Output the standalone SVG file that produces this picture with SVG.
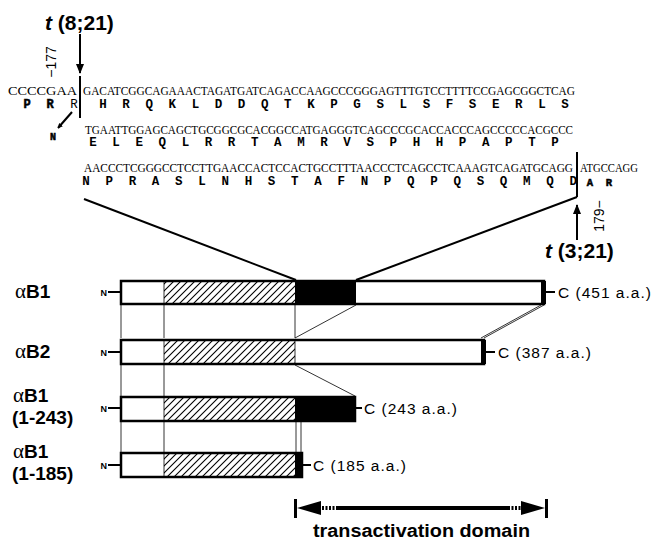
<svg xmlns="http://www.w3.org/2000/svg" width="665" height="542" viewBox="0 0 665 542">
<defs>
<pattern id="hatch" patternUnits="userSpaceOnUse" width="7" height="7">
<path d="M-1,1 L1,-1 M0,7 L7,0 M6,8 L8,6" stroke="#000" stroke-width="1.1"/>
</pattern>
<marker id="ah" viewBox="0 0 10 10" refX="9" refY="5" markerWidth="5" markerHeight="5" orient="auto" markerUnits="userSpaceOnUse">
<path d="M0,0 L10,5 L0,10 z" fill="#000"/>
</marker>
<marker id="ahBig" viewBox="0 0 10 10" refX="9" refY="5" markerWidth="10" markerHeight="10" orient="auto" markerUnits="userSpaceOnUse">
<path d="M0,1 L10,5 L0,9 z" fill="#000"/>
</marker>
</defs>
<style>
.dna{font-family:"Liberation Serif",serif;font-size:13px;fill:#000}
.aa{font-family:"Liberation Mono",monospace;font-size:12.5px;font-weight:bold;fill:#000;text-anchor:middle}
.aab{font-family:"Liberation Mono",monospace;font-size:12px;font-weight:bold;fill:#000;text-anchor:middle;stroke:#000;stroke-width:0.5}
.tl{font-family:"Liberation Sans",Arial,sans-serif;font-size:21px;font-weight:bold;fill:#000}
.pos{font-family:"Liberation Sans",Arial,sans-serif;font-size:14px;fill:#000;text-anchor:middle}
.lab{font-family:"Liberation Sans",Arial,sans-serif;font-size:19px;font-weight:bold;fill:#000}
.alpha{font-family:"Liberation Serif",serif;font-weight:normal;font-size:21px}
.nl{font-family:"Liberation Sans",Arial,sans-serif;font-size:9px;font-weight:bold;fill:#000;text-anchor:end}
.cl{font-family:"Liberation Sans",Arial,sans-serif;font-size:15.5px;letter-spacing:1px;fill:#000}
.bar{stroke:#000;stroke-width:2.5;fill:none}
.thin{stroke:#000;stroke-width:0.8;fill:none}
.conn{stroke:#000;stroke-width:2;fill:none}
.tick{stroke:#000;stroke-width:2}
</style>

<!-- Sequence block -->
<g id="sequence">
<text class="dna" x="8" y="95" textLength="69" lengthAdjust="spacingAndGlyphs">CCCCGAA</text>
<text class="dna" x="83" y="95" textLength="492" lengthAdjust="spacingAndGlyphs">GACATCGGCAGAAACTAGATGATCAGACCAAGCCCGGGAGTTTGTCCTTTTCCGAGCGGCTCAG</text>
<text class="aab" x="27 50" y="108">PR</text>
<text class="aa" x="74" y="108" style="font-weight:normal">R</text>
<text class="aa" x="103 126.1 149.2 172.3 195.4 218.5 241.6 264.7 287.8 310.9 334 357.1 380.2 403.3 426.4 449.5 472.6 495.7 518.8 541.9 565" y="108">HRQKLDDQTKPGSLSFSERLS</text>
<text class="dna" x="85" y="134" textLength="488" lengthAdjust="spacingAndGlyphs">TGAATTGGAGCAGCTGCGGCGCACGGCCATGAGGGTCAGCCCGCACCACCCAGCCCCCACGCCC</text>
<text class="aa" x="93 116.1 139.2 162.3 185.4 208.5 231.6 254.7 277.8 300.9 324 347.1 370.2 393.3 416.4 439.5 462.6 485.7 508.8 531.9 555" y="146">ELEQLRRTAMRVSPHHPAPTP</text>
<text class="dna" x="84" y="172" textLength="489" lengthAdjust="spacingAndGlyphs">AACCCTCGGGCCTCCTTGAACCACTCCACTGCCTTTAACCCTCAGCCTCAAAGTCAGATGCAGG</text>
<text class="dna" x="580" y="172" textLength="58" lengthAdjust="spacingAndGlyphs">ATGCCAGG</text>
<text class="aa" x="86 109.2 132.4 155.6 178.8 202 225.2 248.4 271.6 294.8 318 341.2 364.4 387.6 410.8 434 457.2 480.4 503.6 526.8 550 573.2" y="185">NPRASLNHSTAFNPQPQSQMQD</text>
<text class="aab" x="590 609" y="186" style="font-size:10.5px">AR</text>
<text class="aab" x="53" y="140" style="font-size:10px">N</text>
</g>

<!-- Breakpoint t(8;21) -->
<g id="t8-21">
<text class="tl" x="45" y="30"><tspan font-style="italic">t</tspan> (8;21)</text>
<line x1="80" y1="34" x2="80" y2="73" stroke="#000" stroke-width="2" marker-end="url(#ahBig)"/>
<line x1="80" y1="76" x2="80" y2="118" stroke="#000" stroke-width="2"/>
<text class="pos" transform="translate(56,62) rotate(-90)">−177</text>
<line x1="72" y1="112" x2="58" y2="128" stroke="#000" stroke-width="2" marker-end="url(#ah)"/>
</g>

<!-- Breakpoint t(3;21) -->
<g id="t3-21">
<text class="tl" x="545" y="258"><tspan font-style="italic">t</tspan> (3;21)</text>
<line x1="577" y1="240" x2="577" y2="205" stroke="#000" stroke-width="2" marker-end="url(#ahBig)"/>
<line x1="577" y1="152" x2="577" y2="197" stroke="#000" stroke-width="2"/>
<text class="pos" transform="translate(604,216) rotate(-90)">179−</text>
</g>

<!-- Connectors -->
<g id="connectors">
<line class="conn" x1="84" y1="199" x2="296" y2="280"/>
<line class="conn" x1="577" y1="197" x2="356" y2="280"/>
<!-- aB1 to aB2 -->
<line class="thin" x1="121" y1="305" x2="121" y2="338"/>
<line class="thin" x1="164" y1="305" x2="164" y2="338"/>
<line class="thin" x1="295" y1="305" x2="295" y2="338"/>
<line class="thin" x1="356" y1="305" x2="295" y2="338"/>
<line class="thin" x1="541" y1="305" x2="481" y2="338"/>
<line class="thin" x1="544" y1="305" x2="484" y2="338"/>
<!-- aB2 to 1-243 -->
<line class="thin" x1="121" y1="365" x2="121" y2="396"/>
<line class="thin" x1="164" y1="365" x2="164" y2="396"/>
<line class="thin" x1="295" y1="365" x2="355" y2="396"/>
<!-- 1-243 to 1-185 -->
<line class="thin" x1="121" y1="422" x2="121" y2="452"/>
<line class="thin" x1="164" y1="422" x2="164" y2="452"/>
<line class="thin" x1="296" y1="422" x2="296" y2="452"/>
<line class="thin" x1="301" y1="422" x2="301" y2="452"/>
</g>

<!-- aB1 -->
<g id="aB1">
<text class="lab" x="15" y="298"><tspan class="alpha">α</tspan>B1</text>
<text class="nl" x="107" y="296">N</text>
<line class="tick" x1="108" y1="292" x2="121" y2="292"/>
<rect x="164" y="281" width="131" height="23" fill="url(#hatch)"/>
<rect x="295" y="281" width="61" height="23" fill="#000"/>
<rect x="541" y="281" width="5" height="23" fill="#000"/>
<line class="thin" x1="164" y1="281" x2="164" y2="304"/>
<rect class="bar" x="121" y="281" width="423" height="23"/>
<line class="tick" x1="546" y1="292" x2="555" y2="292"/>
<text class="cl" x="558" y="298">C (451 a.a.)</text>
</g>

<!-- aB2 -->
<g id="aB2">
<text class="lab" x="15" y="358"><tspan class="alpha">α</tspan>B2</text>
<text class="nl" x="107" y="356">N</text>
<line class="tick" x1="108" y1="352" x2="121" y2="352"/>
<rect x="164" y="340" width="131" height="24" fill="url(#hatch)"/>
<rect x="481" y="340" width="5" height="24" fill="#000"/>
<line class="thin" x1="164" y1="340" x2="164" y2="364"/>
<line class="thin" x1="295" y1="340" x2="295" y2="364"/>
<rect class="bar" x="121" y="340" width="363" height="24"/>
<line class="tick" x1="486" y1="352" x2="495" y2="352"/>
<text class="cl" x="498" y="358">C (387 a.a.)</text>
</g>

<!-- aB1 (1-243) -->
<g id="aB1-1-243">
<text class="lab" x="13" y="402"><tspan class="alpha">α</tspan>B1</text>
<text class="lab" x="12" y="424">(1-243)</text>
<text class="nl" x="107" y="412">N</text>
<line class="tick" x1="108" y1="408" x2="121" y2="408"/>
<rect x="164" y="397" width="131" height="24" fill="url(#hatch)"/>
<rect x="295" y="397" width="61" height="24" fill="#000"/>
<line class="thin" x1="164" y1="397" x2="164" y2="421"/>
<rect class="bar" x="121" y="397" width="234" height="24"/>
<line class="tick" x1="355" y1="408" x2="362" y2="408"/>
<text class="cl" x="364" y="414">C (243 a.a.)</text>
</g>

<!-- aB1 (1-185) -->
<g id="aB1-1-185">
<text class="lab" x="13" y="458"><tspan class="alpha">α</tspan>B1</text>
<text class="lab" x="12" y="480">(1-185)</text>
<text class="nl" x="107" y="469">N</text>
<line class="tick" x1="108" y1="465" x2="121" y2="465"/>
<rect x="164" y="453" width="131" height="24" fill="url(#hatch)"/>
<rect x="295" y="453" width="8" height="24" fill="#000"/>
<line class="thin" x1="164" y1="453" x2="164" y2="477"/>
<rect class="bar" x="121" y="453" width="181" height="24"/>
<line class="tick" x1="302" y1="465" x2="311" y2="465"/>
<text class="cl" x="313" y="471">C (185 a.a.)</text>
</g>

<!-- transactivation domain -->
<g id="transactivation">
<rect x="294" y="499" width="3" height="19" fill="#000"/>
<rect x="545" y="499" width="3" height="19" fill="#000"/>
<polygon points="297,508 321,501 321,515" fill="#000"/>
<polygon points="545,508 521,501 521,515" fill="#000"/>
<line x1="322" y1="508" x2="337" y2="508" stroke="#000" stroke-width="4" stroke-dasharray="2,1.5"/>
<line x1="337" y1="508" x2="508" y2="508" stroke="#000" stroke-width="4"/>
<line x1="508" y1="508" x2="521" y2="508" stroke="#000" stroke-width="4" stroke-dasharray="2,1.5"/>
<text x="313" y="537" font-family="'Liberation Sans',Arial,sans-serif" font-size="18" font-weight="bold" textLength="217" lengthAdjust="spacingAndGlyphs">transactivation domain</text>
</g>
</svg>
